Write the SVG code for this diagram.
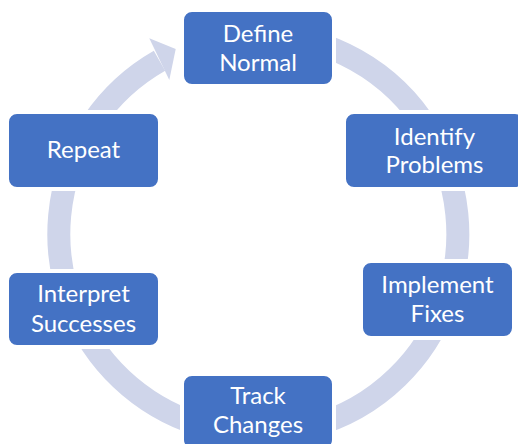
<svg xmlns="http://www.w3.org/2000/svg" width="518" height="444" viewBox="0 0 518 444">
<style>
.box{fill:#4472C4;stroke:#FFFFFF;stroke-width:4}
.lbl{fill:#FFFFFF;font-family:Lato,"Liberation Sans",sans-serif;font-size:24px;text-anchor:middle}
.ring{fill:none;stroke:#CFD5EA;stroke-width:23}
</style>
<rect width="518" height="444" fill="#FFFFFF"/>
<g id="connectors">
<path class="ring" d="M258,34.5 A199.5,199.5 0 1 1 159.5,60.7"/>
<polygon points="149.3,38.3 175.7,49 169.3,80" fill="#CFD5EA"/>
</g>
<g id="n1">
<rect class="box" x="182" y="10" width="152" height="76" rx="10"/>
<text class="lbl" x="258" y="42">Define</text>
<text class="lbl" x="258" y="71">Normal</text>
</g>
<g id="n2">
<rect class="box" x="344" y="112" width="181" height="77" rx="10"/>
<text class="lbl" x="434.5" y="145">Identify</text>
<text class="lbl" x="434.5" y="173">Problems</text>
</g>
<g id="n3">
<rect class="box" x="361" y="261" width="153" height="77" rx="10"/>
<text class="lbl" x="437.5" y="293">Implement</text>
<text class="lbl" x="437.5" y="322">Fixes</text>
</g>
<g id="n4">
<rect class="box" x="182" y="374" width="152" height="76" rx="10"/>
<text class="lbl" x="258" y="404">Track</text>
<text class="lbl" x="258" y="433">Changes</text>
</g>
<g id="n5">
<rect class="box" x="7" y="271" width="153" height="76" rx="10"/>
<text class="lbl" x="83.5" y="302">Interpret</text>
<text class="lbl" x="83.5" y="332">Successes</text>
</g>
<g id="n6">
<rect class="box" x="7" y="112" width="153" height="77" rx="10"/>
<text class="lbl" x="83.5" y="158">Repeat</text>
</g>
</svg>
